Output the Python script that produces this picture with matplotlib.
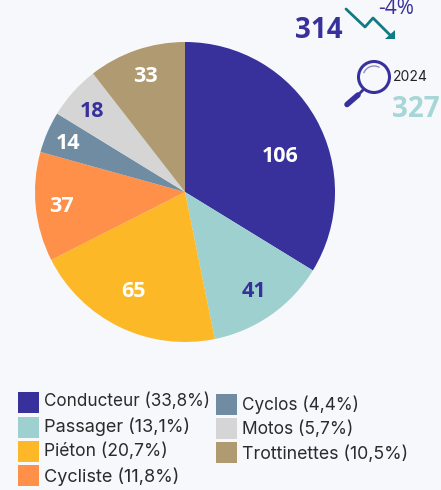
import matplotlib
matplotlib.use("Agg")
import matplotlib.pyplot as plt
from matplotlib.patches import Circle, Polygon, Rectangle, Arc


categories = ["Conducteur", "Passager", "Piéton", "Cycliste", "Cyclos", "Motos", "Trottinettes"]
values = [106, 41, 65, 37, 14, 18, 33]
shares = ["33,8%", "13,1%", "20,7%", "11,8%", "4,4%", "5,7%", "10,5%"]
colors = ["#38309b", "#9dd0cf", "#fdb827", "#fe9049", "#6f8ca3", "#d5d5d5", "#b09a72"]
label_colors = ["white", "#38309b", "white", "white", "white", "#38309b", "white"]
label_pos = [(280, 156), (254, 291), (134, 291), (61, 206), (68, 143), (92, 111), (145, 76)]

total_now = "314"
total_before = "327"
change = "-4%"
year = "2024"

W, H = 441, 490
BG = "#f7f8fc"
NAVY = "#38309b"
TEAL = "#0f7b83"

fig = plt.figure(figsize=(W / 100, H / 100), dpi=100, facecolor=BG)

# pie, placed in pixels
pie_ax = fig.add_axes([35 / W, 1 - 342 / H, 300 / W, 300 / H])
pie_ax.pie(values, colors=colors, startangle=90, counterclock=False, radius=1.0)
pie_ax.set_xlim(-1, 1)
pie_ax.set_ylim(-1, 1)

# everything else on a pixel overlay
ax = fig.add_axes([0, 0, 1, 1])
ax.set_xlim(0, W)
ax.set_ylim(H, 0)
ax.axis("off")
ax.patch.set_alpha(0)

for v, c, p in zip(values, label_colors, label_pos):
    ax.text(p[0], p[1], str(v), color=c, fontsize=15.5, fontweight="bold",
            family="Open Sans", ha="center", va="center")

# legend: swatch x, swatch y, text y, text size
rows = [(18, 392, 401.5, 12.3), (18, 417, 426.5, 13), (18, 441, 451.5, 12.6), (18, 465, 476.5, 13),
        (216, 394, 405, 12.35), (216, 418, 429, 12.5), (216, 442, 454, 12.8)]
for cat, sh, col, r in zip(categories, shares, colors, rows):
    ax.add_patch(Rectangle((r[0], r[1]), 21, 21, facecolor=col, edgecolor="none"))
    ax.text(r[0] + 26, r[2], f"{cat} ({sh})", fontsize=r[3], color="#2b2b2b",
            family="Inter", ha="left", va="center")

# totals
ax.text(318.5, 30, total_now, color=NAVY, fontsize=20, fontweight="bold",
        family="Open Sans", ha="center", va="center")
ax.text(415.5, 109, total_before, color="#a6d6d5", fontsize=20, fontweight="bold",
        family="Open Sans", ha="center", va="center")
ax.text(396.5, 9, change, color=NAVY, fontsize=15, family="Open Sans", ha="center", va="center")
ax.text(410.5, 77, year, color="#222222", fontsize=10, family="Inter", ha="center", va="center")

# trend arrow
ax.plot([346, 365, 373, 392], [9, 27, 18, 37], color=TEAL, lw=2, solid_capstyle="round")
ax.add_patch(Polygon([(395, 30), (395, 39.5), (385, 39.5)], facecolor=TEAL, edgecolor="none"))

# magnifying glass
ax.add_patch(Circle((374, 77), 15.5, facecolor="none", edgecolor=NAVY, lw=2.2))
ax.add_patch(Arc((374, 77), 22, 22, theta1=200, theta2=300, color="#8f8bc6", lw=1))
ax.plot([364, 358], [89, 95], color=NAVY, lw=2, solid_capstyle="butt")
ax.plot([358, 347], [95, 104.5], color=NAVY, lw=4, solid_capstyle="round")

fig.savefig("out.png", dpi=100, facecolor=BG)
plt.close(fig)
